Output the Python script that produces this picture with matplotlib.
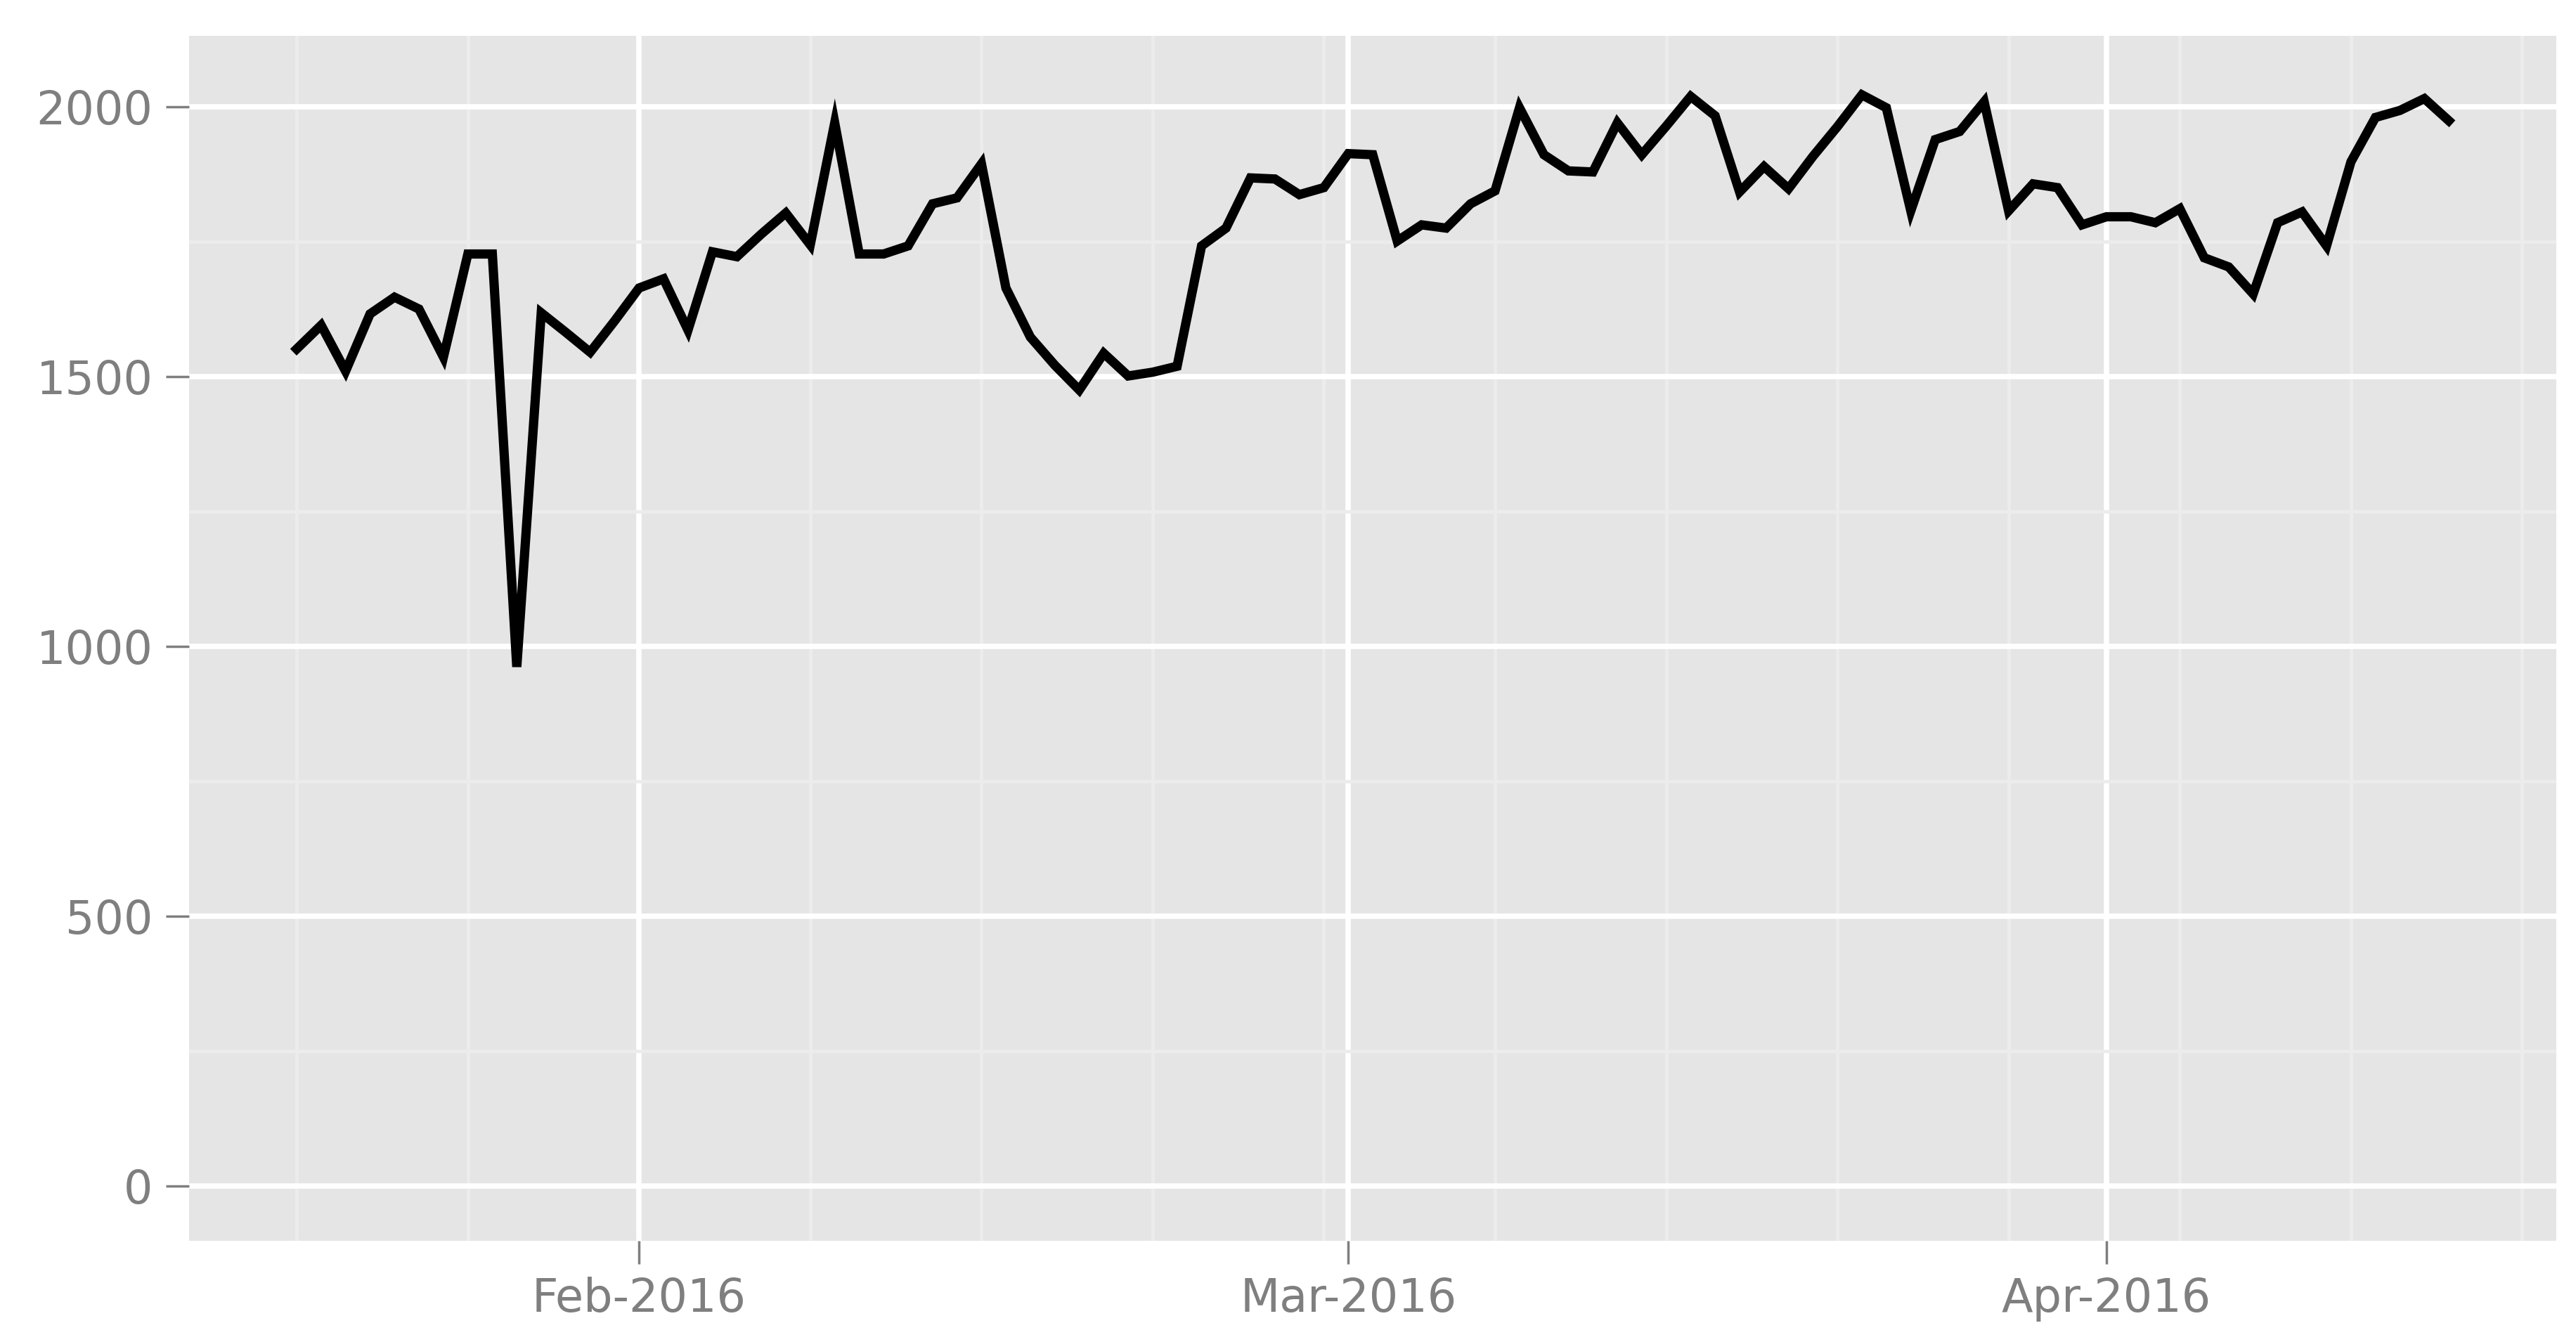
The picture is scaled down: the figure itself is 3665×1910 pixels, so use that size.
#daily_counts_plot.py

import numpy as np
import pandas as pd
import matplotlib
matplotlib.use('Agg')
import matplotlib.pyplot as plt
import matplotlib.dates as mdates
from matplotlib.ticker import MultipleLocator

start_day = '2016-01-18'
end_day = '2016-04-15'

# daily values
jan_vals = [1551, 1595, 1510, 1616, 1647, 1625, 1536, 1727, 1727, 962,
            1618, 1582, 1545, 1603]
feb_vals = [1664, 1681, 1586, 1731, 1722, 1764, 1803, 1744, 1970, 1727,
            1727, 1742, 1820, 1831, 1894, 1664, 1573, 1521, 1475, 1543,
            1501, 1508, 1519, 1742, 1775, 1868, 1866, 1837, 1850]
mar_vals = [1913, 1911, 1751, 1781, 1775, 1820, 1844, 1998, 1911, 1881,
            1879, 1970, 1911, 1964, 2019, 1983, 1842, 1889, 1848, 1908,
            1963, 2022, 1998, 1807, 1939, 1954, 2009, 1807, 1857, 1850,
            1781]
apr_vals = [1796, 1796, 1785, 1811, 1720, 1703, 1653, 1785, 1805, 1742,
            1898, 1980, 1993, 2015, 1974]

y_ticks = [0, 500, 1000, 1500, 2000]

days = pd.date_range(start_day, end_day, freq='D')
vals = np.array(jan_vals + feb_vals + mar_vals + apr_vals)

fig = plt.figure(figsize=(36.65, 19.10), dpi=100, facecolor='white')
ax = fig.add_axes([0.0734, 0.0754, 0.919, 0.898])
ax.set_facecolor('#E5E5E5')
for s in ax.spines.values():
    s.set_visible(False)

ax.plot(days, vals, color='black', linewidth=9.5, solid_joinstyle='miter', zorder=3)

# x axis: months major, mondays minor
ax.xaxis.set_major_locator(mdates.MonthLocator())
ax.xaxis.set_major_formatter(mdates.DateFormatter('%b-%Y'))
ax.xaxis.set_minor_locator(mdates.WeekdayLocator(byweekday=mdates.MO))
pad = (days[-1] - days[0]) * 0.05
ax.set_xlim(days[0] - pad, days[-1] + pad)

ax.set_yticks(y_ticks)
ax.yaxis.set_minor_locator(MultipleLocator(250))
lo, hi = 0, 2030
ax.set_ylim(lo - (hi - lo) * 0.05, hi + (hi - lo) * 0.05)

ax.grid(which='minor', color='#ECECEC', linewidth=3.5, zorder=0)
ax.grid(which='major', color='white', linewidth=5.5, zorder=1)
ax.set_axisbelow(True)

ax.tick_params(which='major', length=24, width=2.5, color='#7F7F7F',
               labelcolor='#7F7F7F', labelsize=47, pad=13)
ax.tick_params(which='minor', length=0)

plt.savefig('out.png', dpi=100, facecolor='white')
